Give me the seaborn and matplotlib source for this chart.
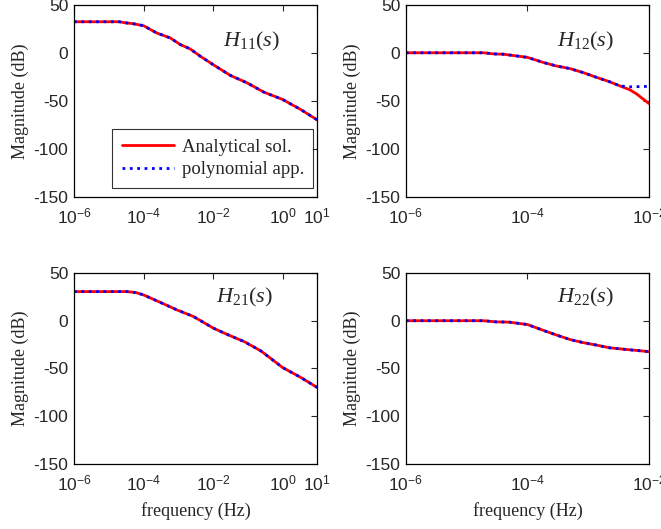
import matplotlib
matplotlib.use('Agg')
import matplotlib.pyplot as plt
import numpy as np
import pandas as pd
import seaborn as sns

# frequency (Hz) and magnitude (dB)
f11 = [1e-6, 2e-6, 5e-6, 1e-5, 2e-5, 3e-5, 5e-5, 1e-4, 2.4e-4, 5.9e-4, 1.15e-3,
       2.2e-3, 4.3e-3, 1e-2, 3.2e-2, 9.5e-2, 0.29, 1.0, 3.3, 10.0]
h11 = [32.3, 32.3, 32.3, 32.3, 32.3, 31.2, 30.3, 28.2, 20.6, 15.4, 8.5,
       4.0, -3.6, -12.3, -23.7, -31.3, -41.0, -48.6, -59.0, -70.0]

f21 = [1e-6, 2e-6, 5e-6, 1e-5, 2e-5, 3.3e-5, 6e-5, 1e-4, 3e-4, 9e-4, 2.7e-3,
       1e-2, 2.6e-2, 8e-2, 0.24, 1.0, 3.2, 10.0]
h21 = [30.5, 30.5, 30.5, 30.5, 30.5, 30.5, 29.5, 27.0, 19.3, 11.4, 4.5,
       -7.6, -14.5, -22.0, -31.7, -49.0, -59.0, -70.0]

f12 = [1e-6, 2e-6, 5e-6, 1e-5, 1.9e-5, 2.8e-5, 4e-5, 1e-4, 1.8e-4, 3e-4,
       5e-4, 8.3e-4, 1.35e-3, 2.2e-3, 3.3e-3, 4.8e-3, 6.2e-3, 1e-2]
h12_ana = [0.0, 0.0, 0.0, 0.0, 0.0, -1.2, -1.5, -4.8, -10.0, -13.8,
           -16.5, -20.7, -25.5, -30.0, -34.5, -38.5, -42.8, -53.0]
h12_app = [0.0, 0.0, 0.0, 0.0, 0.0, -1.2, -1.5, -4.8, -10.0, -13.8,
           -16.5, -20.7, -25.5, -30.0, -34.5, -35.5, -35.3, -35.0]

f22 = [1e-6, 2e-6, 5e-6, 1e-5, 1.9e-5, 3e-5, 5e-5, 1e-4, 1.8e-4, 3e-4,
       5e-4, 8.3e-4, 1.35e-3, 2.2e-3, 3.6e-3, 1e-2]
h22 = [0.0, 0.0, 0.0, 0.0, 0.0, -1.2, -1.5, -4.0, -10.0, -15.0,
       -19.7, -23.0, -25.5, -28.3, -29.7, -32.4]

xticks_left = [1e-6, 1e-4, 1e-2, 1e0, 1e1]
xlabels_left = ['$10^{-6}$', '$10^{-4}$', '$10^{-2}$', '$10^{0}$', '$10^{1}$']
xticks_right = [1e-6, 1e-4, 1e-2]
xlabels_right = ['$10^{-6}$', '$10^{-4}$', '$10^{-2}$']
yticks = [-150, -100, -50, 0, 50]

sns.set_style('white')
plt.rcParams['font.family'] = ['Liberation Sans', 'DejaVu Sans']
plt.rcParams['axes.unicode_minus'] = False
plt.rcParams['mathtext.fontset'] = 'custom'
plt.rcParams['mathtext.rm'] = 'Liberation Sans'
plt.rcParams['mathtext.it'] = 'Liberation Serif:italic'
plt.rcParams['mathtext.default'] = 'regular'

fig = plt.figure(figsize=(6.61, 5.29), dpi=100)
pos = {
    'tl': [0.112, 0.628, 0.368, 0.363],
    'tr': [0.614, 0.628, 0.368, 0.363],
    'bl': [0.112, 0.123, 0.368, 0.361],
    'br': [0.614, 0.123, 0.368, 0.361],
}
serif = ['Liberation Serif', 'DejaVu Serif']

panels = [
    ('tl', f11, h11, h11, r'$\mathit{H}_{11}(\mathit{s})$', (0.73, 0.81), xticks_left, xlabels_left, (1e-6, 10)),
    ('tr', f12, h12_ana, h12_app, r'$\mathit{H}_{12}(\mathit{s})$', (0.74, 0.81), xticks_right, xlabels_right, (1e-6, 1e-2)),
    ('bl', f21, h21, h21, r'$\mathit{H}_{21}(\mathit{s})$', (0.70, 0.87), xticks_left, xlabels_left, (1e-6, 10)),
    ('br', f22, h22, h22, r'$\mathit{H}_{22}(\mathit{s})$', (0.74, 0.87), xticks_right, xlabels_right, (1e-6, 1e-2)),
]

for key, fr, ana, app, name, tpos, xt, xl, xlim in panels:
    ax = fig.add_axes(pos[key])
    ax.set_xscale('log')
    df = pd.DataFrame({'f': fr, 'ana': ana, 'app': app})
    sns.lineplot(data=df, x='f', y='ana', ax=ax, color='red', lw=2,
                 label='Analytical sol.')
    sns.lineplot(data=df, x='f', y='app', ax=ax, color='blue', lw=2,
                 linestyle=':', label='polynomial app.')
    ax.set_xlim(*xlim)
    ax.set_ylim(-150, 50)
    ax.set_xticks(xt)
    ax.set_xticklabels(xl)
    ax.xaxis.set_minor_locator(matplotlib.ticker.NullLocator())
    ax.set_yticks(yticks)
    ax.tick_params(direction='in', top=True, right=True, labelsize=12.5,
                   length=4, width=0.8)
    ax.tick_params(axis='x', pad=7)
    ax.tick_params(axis='y', pad=4)
    for s in ax.spines.values():
        s.set_linewidth(0.9)
        s.set_color('black')
    ax.set_ylabel('Magnitude (dB)', family=serif, fontsize=13, labelpad=3)
    if key in ('bl', 'br'):
        ax.set_xlabel('frequency (Hz)', family=serif, fontsize=13, labelpad=6)
    else:
        ax.set_xlabel('')
    ax.text(tpos[0], tpos[1], name, transform=ax.transAxes, ha='center',
            va='center', fontsize=16, family=serif)
    if key == 'tl':
        leg = ax.legend(loc='lower right', bbox_to_anchor=(0.984, 0.047),
                        prop={'family': serif, 'size': 13.5},
                        frameon=True, fancybox=False, edgecolor='black',
                        handlelength=2.8, handletextpad=0.4, borderaxespad=0,
                        borderpad=0.5, labelspacing=0.3)
        leg.get_frame().set_linewidth(0.8)
    else:
        ax.get_legend().remove()

fig.savefig('out.png', dpi=100)
